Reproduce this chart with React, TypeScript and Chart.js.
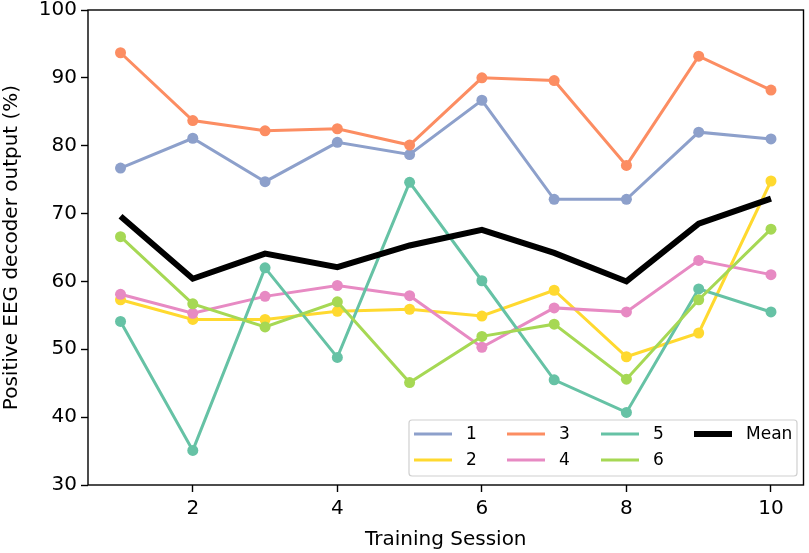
import { useEffect, useRef } from 'react'
import { Chart, registerables } from 'chart.js'
import type { Plugin } from 'chart.js'

Chart.register(...registerables)

// training sessions on the x axis
const sessions = [1, 2, 3, 4, 5, 6, 7, 8, 9, 10]
const xTicks = [2, 4, 6, 8, 10]

// decoder output per subject (%)
const subject1 = [76.7, 81.1, 74.7, 80.5, 78.7, 86.7, 72.1, 72.1, 82.0, 81.0]
const subject2 = [57.3, 54.4, 54.4, 55.6, 55.9, 54.9, 58.7, 48.9, 52.4, 74.8]
const subject3 = [93.7, 83.7, 82.2, 82.5, 80.1, 90.0, 89.6, 77.1, 93.2, 88.2]
const subject4 = [58.1, 55.3, 57.8, 59.4, 57.9, 50.3, 56.1, 55.5, 63.1, 61.0]
const subject5 = [54.1, 35.1, 62.0, 48.8, 74.6, 60.1, 45.5, 40.7, 58.9, 55.5]
const subject6 = [66.6, 56.7, 53.3, 57.0, 45.1, 51.9, 53.7, 45.6, 57.3, 67.7]
const meanOutput = [69.6, 60.4, 64.1, 62.1, 65.3, 67.6, 64.2, 60.0, 68.5, 72.2]

const subjectLabels = ['1', '2', '3', '4', '5', '6']
const subjectColors = ['#8da0cb', '#ffd92f', '#fc8d62', '#e78ac3', '#66c2a5', '#a6d854']
const subjectValues = [subject1, subject2, subject3, subject4, subject5, subject6]

const FONT = '"DejaVu Sans", sans-serif'

// box around the plot plus a matplotlib-style legend in the lower right
const framePlugin: Plugin<'line'> = {
  id: 'frame',
  afterDatasetsDraw(chart) {
    const { ctx, chartArea: a } = chart
    ctx.save()
    ctx.strokeStyle = '#000'
    ctx.lineWidth = 1.4
    ctx.strokeRect(a.left, a.top, a.right - a.left, a.bottom - a.top)
    ctx.restore()
  },
  afterDraw(chart) {
    const { ctx } = chart
    const bx = 409
    const by = 420
    const bw = 388
    const bh = 56
    ctx.save()
    ctx.beginPath()
    ctx.roundRect(bx, by, bw, bh, 3)
    ctx.fillStyle = 'rgba(255,255,255,0.8)'
    ctx.fill()
    ctx.strokeStyle = '#d0d0d0'
    ctx.lineWidth = 1.2
    ctx.stroke()

    const colX = [414, 507, 601, 694]
    const rowY = [434, 460]
    const items = subjectLabels.map((label, i) => ({
      label,
      color: subjectColors[i],
      width: 3,
      col: Math.floor(i / 2),
      row: i % 2,
    }))
    items.push({ label: 'Mean', color: '#000', width: 6, col: 3, row: 0 })

    ctx.font = `17px ${FONT}`
    ctx.textBaseline = 'middle'
    ctx.textAlign = 'left'
    items.forEach((it) => {
      const x = colX[it.col]
      const y = rowY[it.row]
      ctx.beginPath()
      ctx.moveTo(x, y)
      ctx.lineTo(x + 38, y)
      ctx.strokeStyle = it.color
      ctx.lineWidth = it.width
      ctx.stroke()
      ctx.fillStyle = '#000'
      ctx.fillText(it.label, x + 52, y + 1)
    })
    ctx.restore()
  },
}

export default function App() {
  const canvasRef = useRef<HTMLCanvasElement>(null)

  useEffect(() => {
    if (!canvasRef.current) return
    const toPoints = (vals: number[]) => sessions.map((s, i) => ({ x: s, y: vals[i] }))

    const datasets: any[] = subjectValues.map((vals, i) => ({
      label: subjectLabels[i],
      data: toPoints(vals),
      borderColor: subjectColors[i],
      backgroundColor: subjectColors[i],
      borderWidth: 3,
      pointRadius: 5.5,
      pointBorderWidth: 0,
      pointBackgroundColor: subjectColors[i],
      tension: 0,
      order: 7 - i,
    }))
    datasets.push({
      label: 'Mean',
      data: toPoints(meanOutput),
      borderColor: '#000',
      backgroundColor: '#000',
      borderWidth: 6,
      pointRadius: 0,
      tension: 0,
      order: 0,
    })

    const chart = new Chart(canvasRef.current, {
      type: 'line',
      data: { datasets },
      options: {
        animation: false,
        responsive: false,
        layout: { padding: { left: 0, right: 1, top: 10, bottom: 0 } },
        plugins: {
          legend: { display: false },
          tooltip: { enabled: false },
        },
        scales: {
          x: {
            type: 'linear',
            min: 0.55,
            max: 10.45,
            afterBuildTicks: (scale) => {
              scale.ticks = xTicks.map((v) => ({ value: v }))
            },
            afterFit: (scale: any) => {
              scale.height = 68
              scale.paddingLeft = 0
              scale.paddingRight = 0
            },
            grid: {
              drawOnChartArea: false,
              drawTicks: true,
              tickLength: 7,
              tickColor: '#000',
              tickWidth: 1.4,
            },
            border: { display: false },
            ticks: {
              color: '#000',
              padding: 5,
              maxRotation: 0,
              font: { family: FONT, size: 20 },
            },
            title: {
              display: true,
              text: 'Training Session',
              color: '#000',
              padding: { top: 0, bottom: 1 },
              font: { family: FONT, size: 20 },
            },
          },
          y: {
            min: 30,
            max: 100,
            afterFit: (scale: any) => {
              scale.width = 88
              scale.paddingTop = 0
              scale.paddingBottom = 0
            },
            grid: {
              drawOnChartArea: false,
              drawTicks: true,
              tickLength: 7,
              tickColor: '#000',
              tickWidth: 1.4,
            },
            border: { display: false },
            ticks: {
              stepSize: 10,
              color: '#000',
              padding: 4,
              font: { family: FONT, size: 20 },
            },
            title: {
              display: true,
              text: 'Positive EEG decoder output (%)',
              color: '#000',
              padding: { top: 0, bottom: 0 },
              font: { family: FONT, size: 20 },
            },
          },
        },
      },
      plugins: [framePlugin],
    })

    return () => chart.destroy()
  }, [])

  return (
    <div style={{ position: 'absolute', left: 0, top: 0, width: 809, height: 553, background: '#fff' }}>
      <canvas ref={canvasRef} width={809} height={553} />
    </div>
  )
}
